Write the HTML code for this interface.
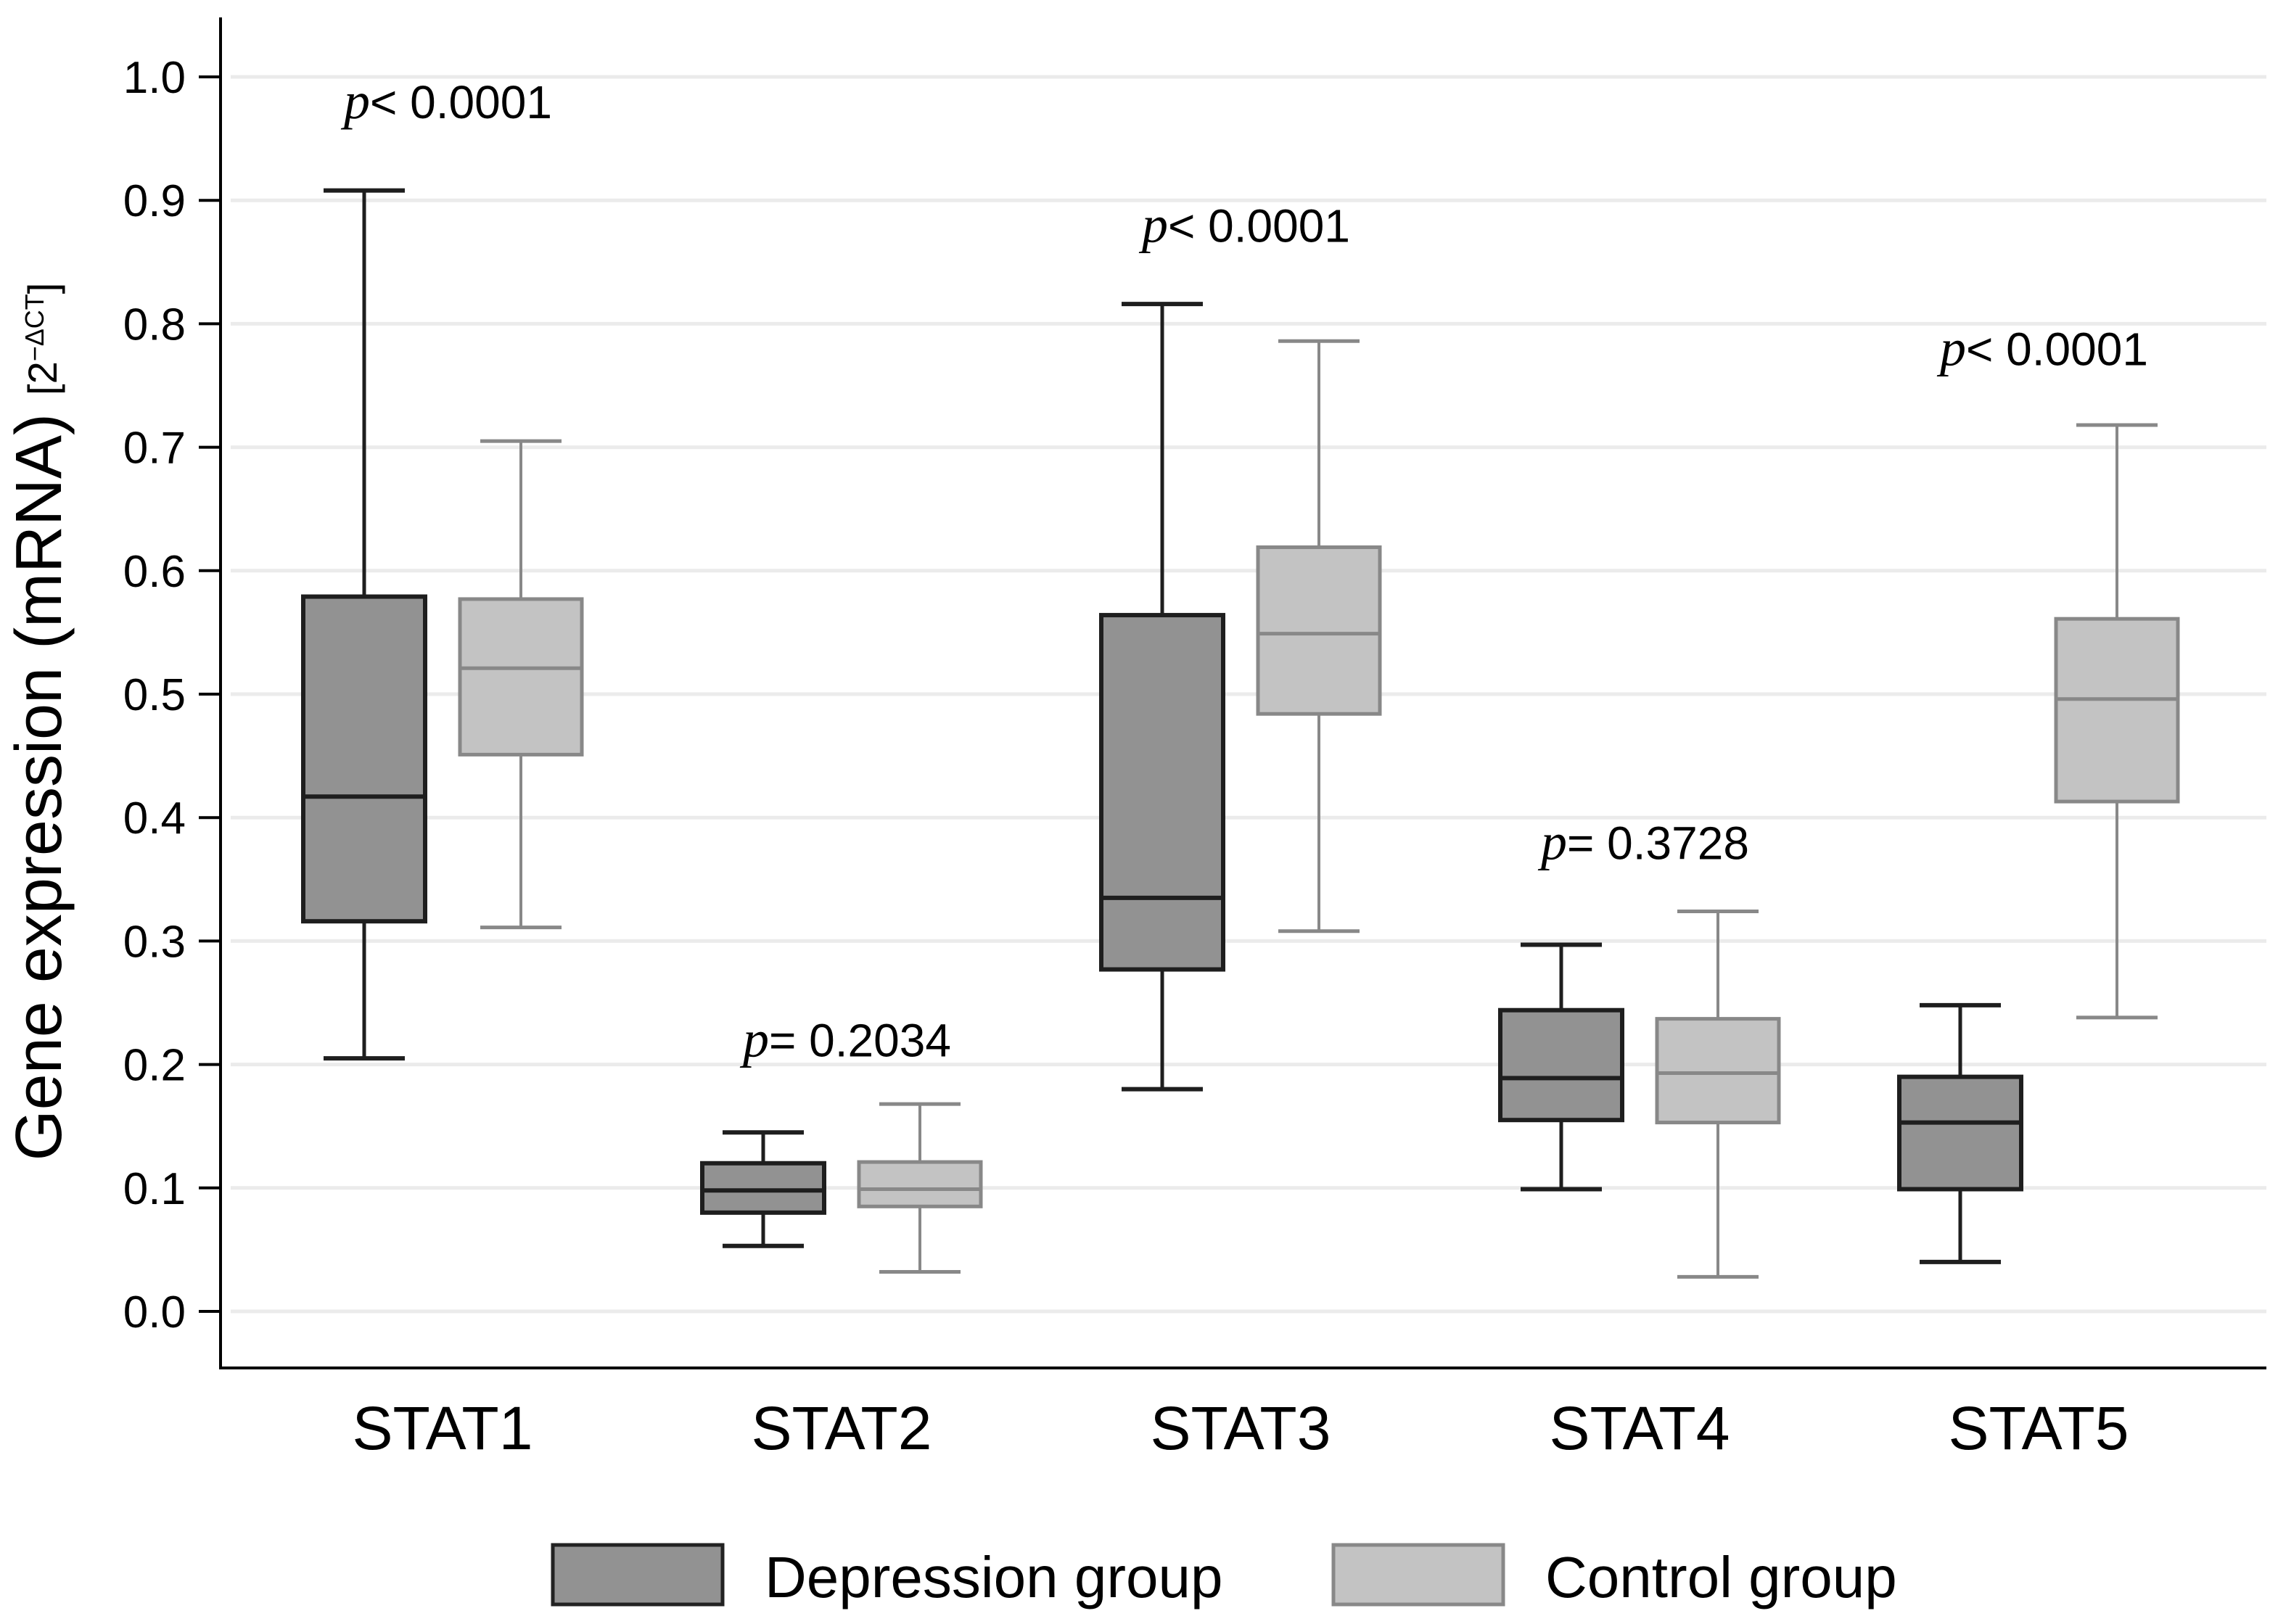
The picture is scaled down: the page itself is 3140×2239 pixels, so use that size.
<!DOCTYPE html>
<html><head><meta charset="utf-8"><style>
html,body{margin:0;padding:0;background:#fff}
svg{display:block}
text{font-family:"Liberation Sans",sans-serif;fill:#000}
</style></head><body>
<svg id="chart" width="3140" height="2239" viewBox="0 0 3140 2239" xmlns="http://www.w3.org/2000/svg">
<g id="grid"></g>
<g id="yaxis"></g>
<g id="boxes"></g>
<g id="labels"></g>
<line x1="304" y1="24" x2="304" y2="1888" stroke="#000" stroke-width="4"/>
<line x1="302" y1="1886" x2="3124" y2="1886" stroke="#000" stroke-width="4"/>
<text transform="translate(84,995) rotate(-90)" text-anchor="middle" font-size="90">Gene expression (mRNA) <tspan font-size="56" dy="-6">[2<tspan font-size="36" dy="-18">−ΔCT</tspan><tspan dy="18">]</tspan></tspan></text>
<g>
<rect x="762" y="2130" width="234" height="82" fill="#929292" stroke="#222" stroke-width="5"/>
<text x="1054" y="2202" font-size="80">Depression group</text>
<rect x="1838" y="2130" width="234" height="82" fill="#c3c3c3" stroke="#888" stroke-width="5"/>
<text x="2130" y="2202" font-size="80">Control group</text>
</g>
</svg>
<script>
const categories = ["STAT1","STAT2","STAT3","STAT4","STAT5"];
const depMin = [0.205,0.053,0.180,0.099,0.040];
const depQ1  = [0.316,0.080,0.277,0.155,0.099];
const depMed = [0.417,0.098,0.335,0.189,0.153];
const depQ3  = [0.579,0.120,0.564,0.244,0.190];
const depMax = [0.908,0.145,0.816,0.297,0.248];
const ctlMin = [0.311,0.032,0.308,0.028,0.238];
const ctlQ1  = [0.451,0.085,0.484,0.153,0.413];
const ctlMed = [0.521,0.099,0.549,0.193,0.496];
const ctlQ3  = [0.577,0.121,0.619,0.237,0.561];
const ctlMax = [0.705,0.168,0.786,0.324,0.718];
const pLabels = ["< 0.0001","= 0.2034","< 0.0001","= 0.3728","< 0.0001"];
const pValuePos = [0.97,0.21,0.87,0.37,0.77];
const yTicks = [0,0.1,0.2,0.3,0.4,0.5,0.6,0.7,0.8,0.9,1.0];

const NS="http://www.w3.org/2000/svg";
function y(v){return 1808 - v*1702;}
function xc(i){return 610 + i*550;}
function mk(tag,attrs,parent){const e=document.createElementNS(NS,tag);for(const k in attrs)e.setAttribute(k,attrs[k]);parent.appendChild(e);return e;}
const grid=document.getElementById('grid'),ya=document.getElementById('yaxis'),bx=document.getElementById('boxes'),lb=document.getElementById('labels');
yTicks.forEach(t=>{
  const g=mk('line',{x1:318,x2:3124,y1:y(t),y2:y(t),stroke:'#ebebeb','stroke-width':5},grid);
  
  
  const tk=mk('line',{x1:274,x2:304,y1:y(t),y2:y(t),stroke:'#000','stroke-width':4},ya);
  
  
  const tx=mk('text',{x:256,y:y(t)+22,'text-anchor':'end','font-size':62},ya);
  tx.textContent=t.toFixed(1);
  
  
});
function box(cx,mn,q1,md,q3,mx,fill,stroke,sw,name){
  const g=mk('g',{},bx);
  
  
  const bw=168,cw=112;
  mk('line',{x1:cx,x2:cx,y1:y(mx),y2:y(q3),stroke:stroke,'stroke-width':sw},g);
  mk('line',{x1:cx,x2:cx,y1:y(q1),y2:y(mn),stroke:stroke,'stroke-width':sw},g);
  mk('line',{x1:cx-cw/2,x2:cx+cw/2,y1:y(mx),y2:y(mx),stroke:stroke,'stroke-width':sw+1},g);
  mk('line',{x1:cx-cw/2,x2:cx+cw/2,y1:y(mn),y2:y(mn),stroke:stroke,'stroke-width':sw+1},g);
  mk('rect',{x:cx-bw/2,y:y(q3),width:bw,height:y(q1)-y(q3),fill:fill,stroke:stroke,'stroke-width':sw+1},g);
  mk('line',{x1:cx-bw/2,x2:cx+bw/2,y1:y(md),y2:y(md),stroke:stroke,'stroke-width':sw+1},g);
}
categories.forEach((c,i)=>{
  box(xc(i)-108,depMin[i],depQ1[i],depMed[i],depQ3[i],depMax[i],'#929292','#1e1e1e',5,'box-depression-'+c.toLowerCase());
  box(xc(i)+108,ctlMin[i],ctlQ1[i],ctlMed[i],ctlQ3[i],ctlMax[i],'#c3c3c3','#888',4,'box-control-'+c.toLowerCase());
  const t=mk('text',{x:xc(i),y:1998,'text-anchor':'middle','font-size':84},lb);
  t.textContent=c;
  
  
  const p=mk('text',{x:xc(i)-136,y:y(pValuePos[i])+6,'font-size':64},lb);
  p.innerHTML='<tspan font-family="Liberation Serif, serif" font-style="italic" font-size="72">p</tspan>'+pLabels[i];
  
  
});
</script>
</body></html>
